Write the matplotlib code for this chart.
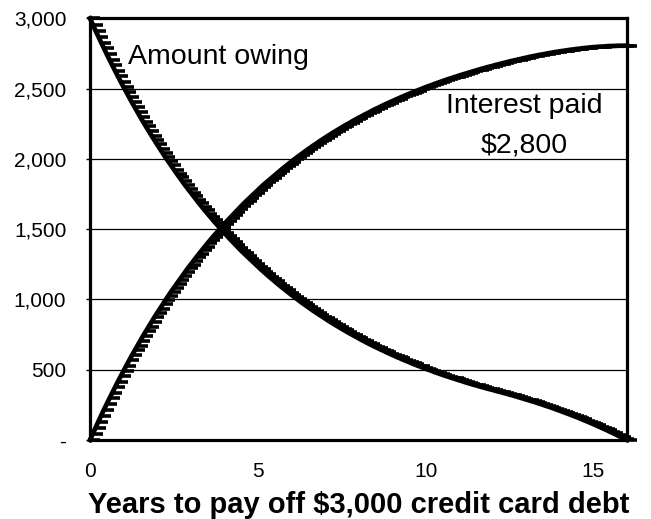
import matplotlib
matplotlib.use("Agg")
import matplotlib.pyplot as plt
from matplotlib.path import Path

plt.rcParams['font.family'] = ['Liberation Sans', 'DejaVu Sans']

# months since the start, one point per month
months = list(range(193))

# balance still owing each month ($)
owing = [
    3000, 2956, 2912, 2870, 2827, 2786, 2745, 2705, 2665, 2626, 2587, 2549,
    2512, 2475, 2438, 2402, 2367, 2332, 2298, 2264, 2231, 2198, 2166, 2134,
    2103, 2072, 2041, 2011, 1982, 1953, 1924, 1896, 1868, 1840, 1813, 1787,
    1760, 1734, 1709, 1684, 1659, 1635, 1611, 1587, 1564, 1541, 1518, 1496,
    1474, 1452, 1431, 1410, 1389, 1369, 1348, 1329, 1309, 1290, 1271, 1252,
    1234, 1216, 1198, 1180, 1163, 1146, 1129, 1112, 1096, 1080, 1064, 1048,
    1033, 1018, 1003, 988, 973, 959, 945, 931, 917, 904, 891, 878,
    865, 852, 839, 827, 815, 803, 791, 780, 768, 757, 746, 735,
    724, 713, 703, 692, 682, 672, 662, 653, 643, 634, 624, 615,
    606, 597, 588, 580, 571, 563, 555, 546, 538, 530, 523, 515,
    507, 500, 493, 485, 478, 471, 464, 457, 451, 444, 438, 431,
    425, 419, 412, 406, 400, 394, 389, 383, 377, 372, 366, 361,
    356, 350, 345, 340, 334, 329, 323, 318, 312, 306, 300, 294,
    288, 282, 276, 270, 263, 257, 250, 243, 237, 230, 223, 215,
    208, 201, 193, 186, 178, 170, 163, 155, 146, 138, 130, 121,
    113, 104, 95, 86, 77, 68, 58, 49, 39, 29, 19, 9,
    0,
]

# cumulative interest paid ($)
interest = [
    0, 44, 88, 131, 174, 216, 257, 297, 337, 377, 416, 454,
    492, 529, 566, 602, 637, 672, 707, 741, 774, 807, 840, 872,
    903, 935, 965, 995, 1025, 1055, 1083, 1112, 1140, 1168, 1195, 1222,
    1248, 1274, 1300, 1325, 1350, 1375, 1399, 1423, 1446, 1469, 1492, 1515,
    1537, 1558, 1580, 1601, 1622, 1643, 1663, 1683, 1702, 1722, 1741, 1760,
    1778, 1797, 1815, 1832, 1850, 1867, 1884, 1901, 1917, 1933, 1949, 1965,
    1980, 1996, 2011, 2026, 2040, 2055, 2069, 2083, 2097, 2110, 2124, 2137,
    2150, 2163, 2175, 2188, 2200, 2212, 2224, 2236, 2247, 2258, 2270, 2281,
    2292, 2302, 2313, 2323, 2333, 2344, 2354, 2363, 2373, 2383, 2392, 2401,
    2410, 2419, 2428, 2437, 2445, 2454, 2462, 2470, 2478, 2486, 2494, 2502,
    2510, 2517, 2524, 2532, 2539, 2546, 2553, 2560, 2567, 2573, 2580, 2586,
    2593, 2599, 2605, 2611, 2617, 2623, 2629, 2635, 2641, 2646, 2652, 2657,
    2662, 2668, 2673, 2678, 2683, 2688, 2693, 2698, 2702, 2707, 2711, 2716,
    2720, 2725, 2729, 2733, 2737, 2741, 2744, 2748, 2752, 2755, 2759, 2762,
    2765, 2768, 2771, 2774, 2777, 2779, 2782, 2784, 2787, 2789, 2791, 2793,
    2795, 2796, 2798, 2799, 2800, 2802, 2803, 2803, 2804, 2805, 2805, 2805,
    2806,
]

y_ticks = [0, 500, 1000, 1500, 2000, 2500, 3000]
y_labels = ['-', '500', '1,000', '1,500', '2,000', '2,500', '3,000']
x_ticks = [0, 5, 10, 15]

years = [m / 12 for m in months]

# Excel-like "dash" marker that sticks out to the right of each point
dash = Path([(0, 0), (1, 0)], [Path.MOVETO, Path.LINETO])

fig = plt.figure(figsize=(6.51, 5.19), dpi=100)
ax = fig.add_axes([0.1382, 0.1522, 0.8249, 0.8125])

for series in (owing, interest):
    ax.plot(years, series, color='black', lw=3.4, marker=dash, ms=15,
            mew=2.6, mec='black', mfc='black', clip_on=False, zorder=3)

ax.set_xlim(0, 16)
ax.set_ylim(0, 3000)
ax.set_yticks(y_ticks)
ax.set_yticklabels(y_labels)
ax.set_xticks(x_ticks)
ax.tick_params(axis='y', labelsize=15, length=3, width=1, pad=14)
ax.tick_params(axis='x', labelsize=15, length=0, pad=16)
ax.yaxis.grid(True, color='black', lw=0.9)
ax.set_axisbelow(True)
for s in ax.spines.values():
    s.set_linewidth(2.3)

ax.set_xlabel('Years to pay off $3,000 credit card debt', fontsize=21,
              fontweight='bold', labelpad=7)

ax.text(1.14, 2677, 'Amount owing', fontsize=20.5, va='baseline', ha='left')
ax.text(12.93, 2324, 'Interest paid', fontsize=20.5, va='baseline', ha='center')
ax.text(12.93, 2047, '$2,800', fontsize=20.5, va='baseline', ha='center')

fig.savefig('out.png', dpi=100)
